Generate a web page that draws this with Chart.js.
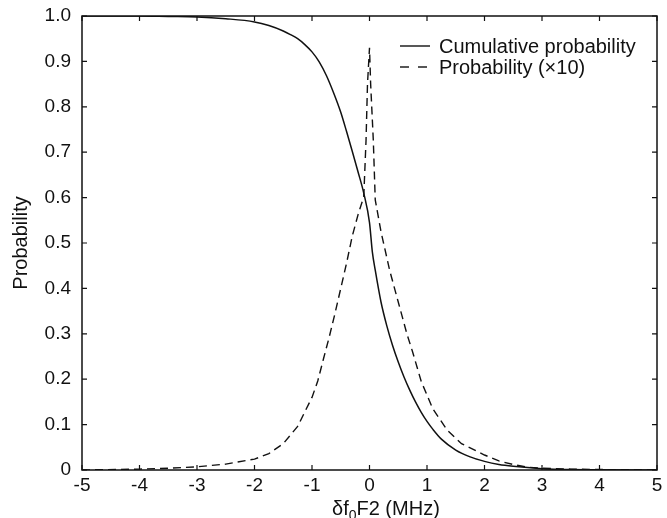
<!DOCTYPE html>
<html><head><meta charset="utf-8">
<script src="https://cdn.jsdelivr.net/npm/chart.js@4.4.1/dist/chart.umd.min.js"></script>
<style>html,body{margin:0;padding:0;background:#fff}canvas{display:block}</style>
</head><body>
<canvas id="c" width="667" height="518"></canvas>
<script>
// Cumulative probability (solid line)
const cumX = [-5, -4, -3.5, -3, -2.5, -2, -1.75, -1.5, -1.375, -1.25, -1.125, -1, -0.875, -0.75, -0.625, -0.5, -0.4, -0.3, -0.2, -0.1, 0, 0.05, 0.1, 0.2, 0.3, 0.4, 0.5, 0.6, 0.7, 0.8, 0.9, 1.0, 1.1, 1.25, 1.5, 1.75, 2, 2.25, 2.5, 3, 3.5, 4, 5];
const cumY = [1.0, 1.0, 0.999, 0.998, 0.994, 0.987, 0.979, 0.967, 0.959, 0.950, 0.937, 0.921, 0.899, 0.869, 0.831, 0.788, 0.746, 0.702, 0.657, 0.61, 0.545, 0.48, 0.44, 0.37, 0.318, 0.275, 0.238, 0.205, 0.176, 0.150, 0.127, 0.107, 0.09, 0.068, 0.044, 0.029, 0.019, 0.012, 0.008, 0.003, 0.001, 0.0005, 0];
// Probability x10 (dashed line)
const probX = [-5, -4, -3.5, -3, -2.5, -2, -1.75, -1.5, -1.25, -1, -0.9, -0.8, -0.7, -0.6, -0.5, -0.4, -0.3, -0.2, -0.1, -0.06, -0.035, 0, 0.02, 0.066, 0.1, 0.2, 0.35, 0.5, 0.65, 0.75, 0.9, 1.1, 1.35, 1.6, 2, 2.25, 2.5, 2.75, 3, 3.5, 4, 5];
const probY = [0, 0.002, 0.004, 0.007, 0.013, 0.024, 0.036, 0.058, 0.096, 0.16, 0.196, 0.245, 0.293, 0.345, 0.40, 0.455, 0.515, 0.562, 0.602, 0.727, 0.85, 0.93, 0.85, 0.727, 0.595, 0.525, 0.44, 0.37, 0.30, 0.26, 0.195, 0.135, 0.088, 0.058, 0.033, 0.02, 0.012, 0.006, 0.004, 0.002, 0.001, 0];
const xTicks = [-5, -4, -3, -2, -1, 0, 1, 2, 3, 4, 5];
const yTicks = [0, 0.1, 0.2, 0.3, 0.4, 0.5, 0.6, 0.7, 0.8, 0.9, 1.0];
const seriesNames = ['Cumulative probability', 'Probability (\u00d710)'];
const yTitle = 'Probability';
const xTitleParts = ['\u03b4f', '0', 'F2 (MHz)'];

const FONT = '"Liberation Sans", Arial, Helvetica, sans-serif';
const INK = '#111';

const toPts = (xs, ys) => xs.map((x, i) => ({x: x, y: ys[i]}));

const decor = {
  id: 'decor',
  afterDatasetsDraw(chart) {
    const ctx = chart.ctx, a = chart.chartArea;
    const xs = chart.scales.x, ys = chart.scales.y;
    ctx.save();
    ctx.strokeStyle = INK;
    ctx.lineWidth = 1.5;
    ctx.setLineDash([]);
    ctx.strokeRect(a.left, a.top, a.right - a.left, a.bottom - a.top);
    ctx.lineWidth = 1.2;
    ctx.beginPath();
    xTicks.forEach(v => {
      const p = xs.getPixelForValue(v);
      ctx.moveTo(p, a.bottom); ctx.lineTo(p, a.bottom - 5);
      ctx.moveTo(p, a.top); ctx.lineTo(p, a.top + 5);
    });
    yTicks.forEach(v => {
      const p = ys.getPixelForValue(v);
      ctx.moveTo(a.left, p); ctx.lineTo(a.left + 5, p);
      ctx.moveTo(a.right, p); ctx.lineTo(a.right - 5, p);
    });
    ctx.stroke();

    // legend
    ctx.fillStyle = INK;
    ctx.font = '20px ' + FONT;
    ctx.textBaseline = 'middle';
    ctx.textAlign = 'left';
    const ds = chart.data.datasets;
    const rows = [46, 67];
    rows.forEach((y, i) => {
      ctx.lineWidth = 1.4;
      ctx.setLineDash(i === 0 ? [] : [9, 9]);
      ctx.beginPath();
      ctx.moveTo(400, y); ctx.lineTo(430, y);
      ctx.strokeStyle = ds[i].borderColor;
      ctx.stroke();
      ctx.fillText(ds[i].label, 439, y + 1);
    });
    ctx.setLineDash([]);

    // y title
    ctx.save();
    ctx.translate(21, (a.top + a.bottom) / 2);
    ctx.rotate(-Math.PI / 2);
    ctx.textAlign = 'center';
    ctx.font = '20px ' + FONT;
    ctx.fillText(yTitle, 0, 0);
    ctx.restore();

    // x title with subscript
    ctx.textAlign = 'left';
    ctx.textBaseline = 'alphabetic';
    let x = 332;
    const base = 515;
    ctx.font = '20px ' + FONT;
    ctx.fillText(xTitleParts[0], x, base);
    x += ctx.measureText(xTitleParts[0]).width;
    ctx.font = '14px ' + FONT;
    ctx.fillText(xTitleParts[1], x, base + 5);
    x += ctx.measureText(xTitleParts[1]).width;
    ctx.font = '20px ' + FONT;
    ctx.fillText(xTitleParts[2], x, base);
    ctx.restore();
  }
};

new Chart(document.getElementById('c'), {
  type: 'line',
  data: {
    datasets: [
      {label: seriesNames[0], data: toPts(cumX, cumY), borderColor: INK, borderWidth: 1.5,
       pointRadius: 0, cubicInterpolationMode: 'monotone', fill: false},
      {label: seriesNames[1], data: toPts(probX, probY), borderColor: INK, borderWidth: 1.4,
       borderDash: [8, 5], pointRadius: 0, tension: 0, fill: false}
    ]
  },
  options: {
    responsive: false,
    animation: false,
    devicePixelRatio: 1,
    layout: {padding: {left: 0, right: 10, top: 16, bottom: 0}},
    plugins: {legend: {display: false}, tooltip: {enabled: false}},
    scales: {
      x: {
        type: 'linear', min: -5, max: 5,
        afterBuildTicks: s => { s.ticks = xTicks.map(v => ({value: v})); },
        afterFit: s => { s.height = 48; s.paddingLeft = 0; s.paddingRight = 0; },
        grid: {display: false, drawTicks: false},
        border: {display: false},
        ticks: {color: INK, padding: 4, font: {family: FONT, size: 19},
                maxRotation: 0, autoSkip: false, callback: v => String(v)}
      },
      y: {
        type: 'linear', min: 0, max: 1,
        afterBuildTicks: s => { s.ticks = yTicks.map(v => ({value: v})); },
        afterFit: s => { s.width = 82; s.paddingTop = 0; s.paddingBottom = 0; },
        grid: {display: false, drawTicks: false},
        border: {display: false},
        ticks: {color: INK, padding: 11, font: {family: FONT, size: 19},
                autoSkip: false, callback: v => (v === 0 ? '0' : Number(v).toFixed(1))}
      }
    }
  },
  plugins: [decor]
});
</script>
</body></html>
